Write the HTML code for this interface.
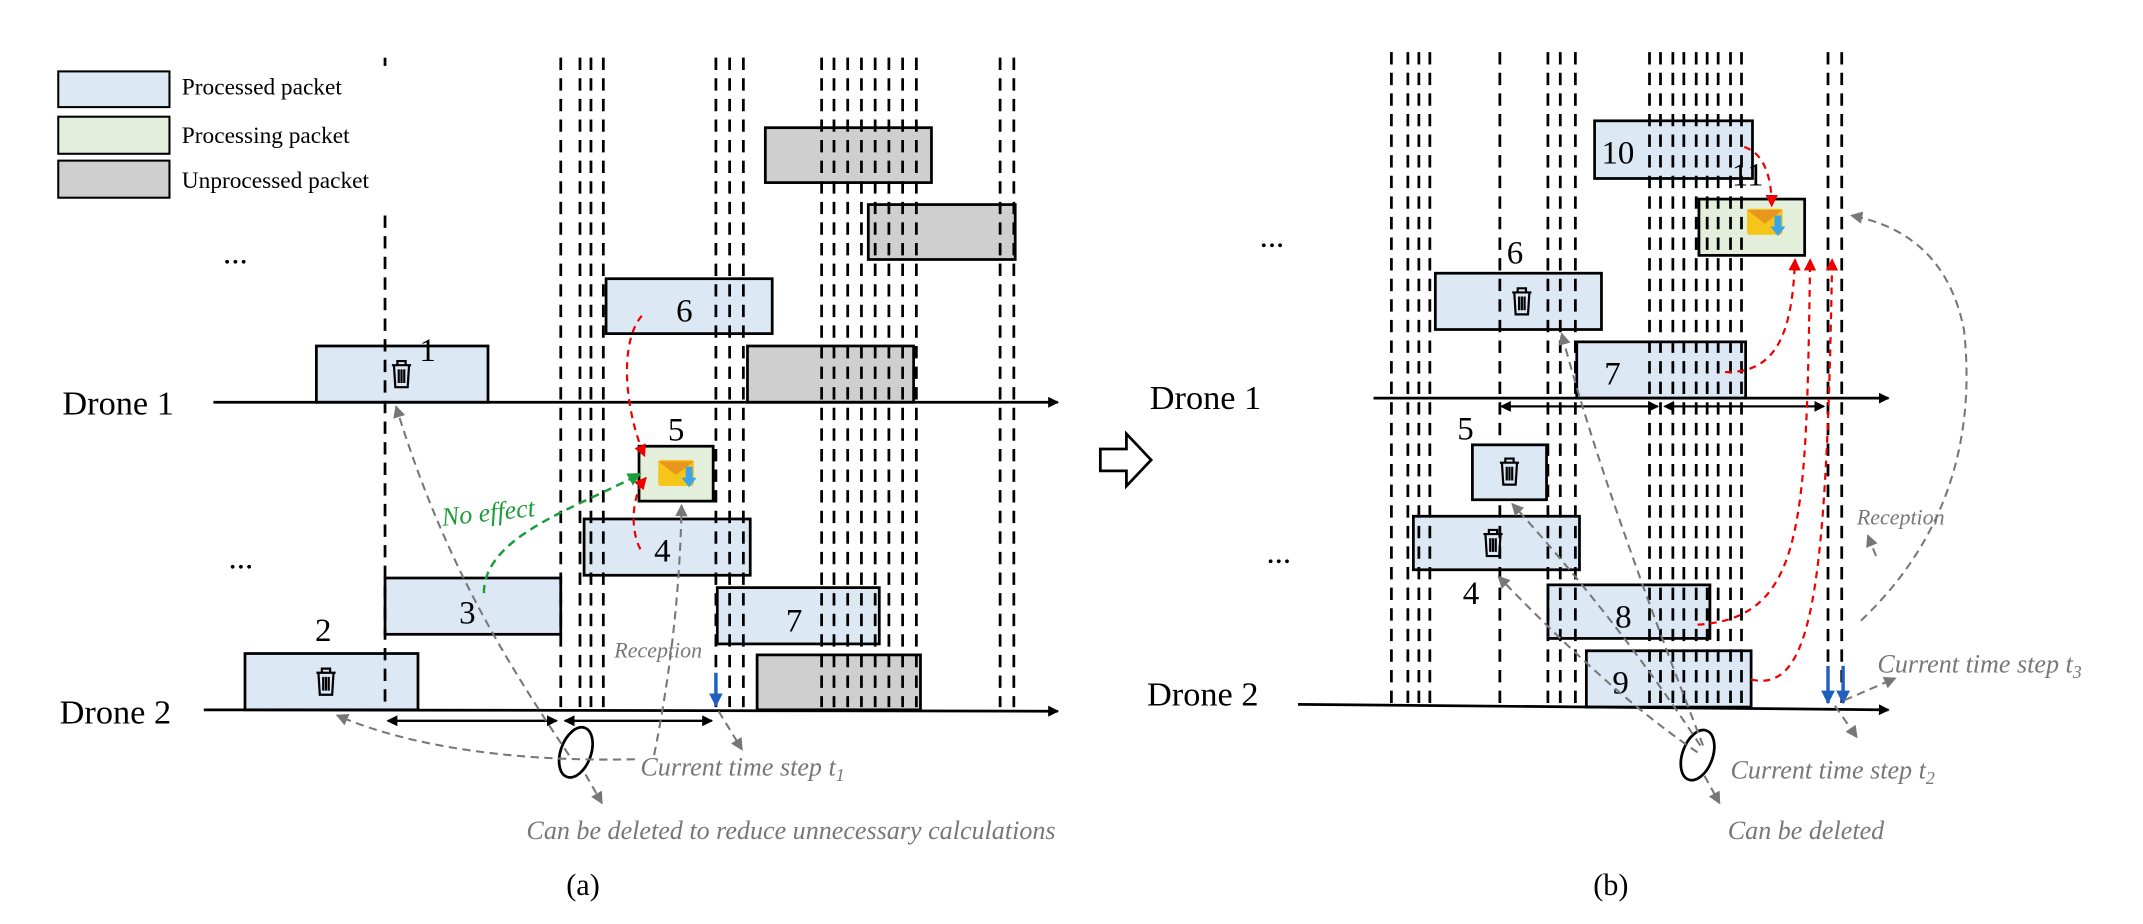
<!DOCTYPE html>
<html><head><meta charset="utf-8"><style>
html,body{margin:0;padding:0;background:#fff;}
svg{display:block;}
text{font-family:"Liberation Serif",serif;}
</style></head><body>
<svg width="2143" height="924" viewBox="0 0 1560 673" xmlns="http://www.w3.org/2000/svg">
<defs>
<marker id="ak" markerWidth="8" markerHeight="8" refX="7" refY="4" orient="auto" markerUnits="userSpaceOnUse"><path d="M0,0 L8,4 L0,8 z" fill="#000"/></marker>
<marker id="ag" markerWidth="9" markerHeight="9" refX="8" refY="4.5" orient="auto" markerUnits="userSpaceOnUse"><path d="M0,0 L9,4.5 L0,9 z" fill="#777"/></marker>
<marker id="ar" markerWidth="9" markerHeight="9" refX="8" refY="4.5" orient="auto" markerUnits="userSpaceOnUse"><path d="M0,0 L9,4.5 L0,9 z" fill="#e00"/></marker>
<marker id="agr" markerWidth="10" markerHeight="10" refX="9" refY="5" orient="auto" markerUnits="userSpaceOnUse"><path d="M0,0 L10,5 L0,10 z" fill="#1a9e3a"/></marker>
<marker id="ab" markerWidth="10" markerHeight="10" refX="9" refY="5" orient="auto" markerUnits="userSpaceOnUse"><path d="M0,0 L10,5 L0,10 z" fill="#1f5fbf"/></marker>
<g id="trash" fill="none" stroke="#000" stroke-width="1.6">
<path d="M-7,-7 L7,-7 M-3,-7 L-3,-10 L3,-10 L3,-7 M-5.5,-7 L-4.5,9 L4.5,9 L5.5,-7 M-2,-4 L-2,6 M0,-4 L0,6 M2,-4 L2,6"/>
</g>
<g id="env">
<rect x="-13" y="-11" width="26" height="19" rx="2" fill="#f5c518"/>
<path d="M-13,-10 L0,0 L13,-10 z" fill="#e8961e"/>
<path d="M7,-6 L12,-6 L12,2 L15,2 L9.5,9 L4,2 L7,2 z" fill="#3aa6e8"/>
</g>
</defs>

<!-- Legend -->
<g stroke="#000" stroke-width="1.5">
<rect x="42" y="52" width="81" height="26" fill="#dde8f5"/>
<rect x="42" y="85" width="81" height="27" fill="#e3efdb"/>
<rect x="42" y="117" width="81" height="27" fill="#d0cfd0"/>
</g>
<g font-size="17">
<text x="132" y="69">Processed packet</text>
<text x="132" y="104">Processing packet</text>
<text x="132" y="137">Unprocessed packet</text>
</g>

<!-- Panel a boxes -->
<g stroke="#000" stroke-width="2">
<rect x="557" y="93" width="121" height="40" fill="#d0cfd0"/>
<rect x="632" y="149" width="107" height="40" fill="#d0cfd0"/>
<rect x="441" y="203" width="121" height="40" fill="#dde8f5"/>
<rect x="230" y="252" width="125" height="41" fill="#dde8f5"/>
<rect x="544" y="252" width="121" height="41" fill="#d0cfd0"/>
<rect x="425" y="378" width="121" height="41" fill="#dde8f5"/>
<rect x="280" y="421" width="128" height="41" fill="#dde8f5"/>
<rect x="522" y="428" width="118" height="41" fill="#dde8f5"/>
<rect x="178" y="476" width="126" height="41" fill="#dde8f5"/>
<rect x="551" y="477" width="119" height="40" fill="#d0cfd0"/>
</g>

<!-- Panel a dashed verticals -->
<g stroke="#000" stroke-width="2" stroke-dasharray="9 6">
<line x1="280" y1="42" x2="280" y2="48"/>
<line x1="280" y1="157" x2="280" y2="517"/>
<line x1="408" y1="42" x2="408" y2="515"/>
<line x1="422" y1="42" x2="422" y2="515"/>
<line x1="430" y1="42" x2="430" y2="515"/>
<line x1="439" y1="42" x2="439" y2="515"/>
<line x1="521" y1="42" x2="521" y2="515"/>
<line x1="531" y1="42" x2="531" y2="515"/>
<line x1="541" y1="42" x2="541" y2="515"/>
<line x1="598" y1="42" x2="598" y2="515"/>
<line x1="607" y1="42" x2="607" y2="515"/>
<line x1="617" y1="42" x2="617" y2="515"/>
<line x1="627" y1="42" x2="627" y2="515"/>
<line x1="637" y1="42" x2="637" y2="515"/>
<line x1="647" y1="42" x2="647" y2="515"/>
<line x1="657" y1="42" x2="657" y2="515"/>
<line x1="667" y1="42" x2="667" y2="515"/>
<line x1="728" y1="42" x2="728" y2="515"/>
<line x1="738" y1="42" x2="738" y2="515"/>
</g>
<rect x="465" y="325" width="54" height="40" fill="#e3efdb" stroke="#000" stroke-width="2"/>
<use href="#trash" x="292" y="273"/>
<use href="#trash" x="237" y="497"/>
<use href="#env" x="492" y="346"/>
<g font-size="24">
<text x="492" y="234">6</text>
<text x="305" y="263">1</text>
<text x="486" y="321">5</text>
<text x="476" y="409">4</text>
<text x="334" y="454">3</text>
<text x="572" y="460">7</text>
<text x="229" y="467">2</text>
<text x="45" y="302" font-size="25">Drone 1</text>
<text x="43" y="527" font-size="25">Drone 2</text>
<text x="162" y="192">...</text>
<text x="166" y="414">...</text>
<text x="412" y="652" font-size="22">(a)</text>
</g>
<!-- axes a -->
<line x1="155" y1="293" x2="770" y2="293" stroke="#000" stroke-width="2" marker-end="url(#ak)"/>
<line x1="148" y1="517" x2="770" y2="518" stroke="#000" stroke-width="2" marker-end="url(#ak)"/>
<g stroke="#000" stroke-width="1.5">
<line x1="283" y1="525" x2="405" y2="525" marker-end="url(#ak)"/>
<line x1="411" y1="525" x2="518" y2="525" marker-end="url(#ak)"/>
<line x1="405" y1="525" x2="282" y2="525" marker-end="url(#ak)"/>
<line x1="518" y1="525" x2="411" y2="525" marker-end="url(#ak)"/>
</g>
<line x1="521" y1="490" x2="521" y2="514" stroke="#1f5fbf" stroke-width="2.5" marker-end="url(#ab)"/>
<ellipse cx="419" cy="548" rx="11" ry="19" transform="rotate(20 419 548)" fill="none" stroke="#000" stroke-width="2"/>
<path d="M467,230 C450,250 455,300 469,332" fill="none" stroke="#e00" stroke-width="1.6" stroke-dasharray="5 4" marker-end="url(#ar)"/>
<path d="M466,400 C458,385 460,360 470,348" fill="none" stroke="#e00" stroke-width="1.6" stroke-dasharray="5 4" marker-end="url(#ar)"/>
<path d="M352,432 C352,390 420,370 466,345" fill="none" stroke="#1a9e3a" stroke-width="1.8" stroke-dasharray="6 4" marker-end="url(#agr)"/>
<text x="322" y="383" font-size="19" font-style="italic" fill="#1a9e3a" transform="rotate(-6 322 383)">No effect</text>
<g fill="none" stroke="#777" stroke-width="1.5" stroke-dasharray="6 4">
<path d="M414,550 C360,470 320,400 288,296" marker-end="url(#ag)"/>
<path d="M462,553 C380,555 300,545 245,521" marker-end="url(#ag)"/>
<path d="M476,550 C490,480 495,420 496,368" marker-end="url(#ag)"/>
<path d="M523,518 L540,546" marker-end="url(#ag)"/>
<path d="M426,564 L438,585" marker-end="url(#ag)"/>
</g>
<g font-style="italic" fill="#777">
<text x="447" y="479" font-size="16">Reception</text>
<text x="466" y="565" font-size="19">Current time step <tspan>t</tspan><tspan font-size="13" dy="4">1</tspan></text>
<text x="383" y="611" font-size="19">Can be deleted to reduce unnecessary calculations</text>
</g>

<path d="M801,327 L820,327 L820,316 L838,335 L820,354 L820,343 L801,343 z" fill="#fff" stroke="#000" stroke-width="2"/>

<!-- Panel b boxes -->
<g stroke="#000" stroke-width="2">
<rect x="1161" y="88" width="115" height="42" fill="#dde8f5"/>
<rect x="1237" y="145" width="77" height="41" fill="#e3efdb"/>
<rect x="1045" y="199" width="121" height="41" fill="#dde8f5"/>
<rect x="1148" y="249" width="123" height="41" fill="#dde8f5"/>
<rect x="1029" y="376" width="121" height="39" fill="#dde8f5"/>
<rect x="1127" y="426" width="118" height="39" fill="#dde8f5"/>
<rect x="1155" y="474" width="120" height="41" fill="#dde8f5"/>
</g>
<g stroke="#000" stroke-width="2" stroke-dasharray="9 6">
<line x1="1013" y1="38" x2="1013" y2="512"/>
<line x1="1025" y1="38" x2="1025" y2="512"/>
<line x1="1033" y1="38" x2="1033" y2="512"/>
<line x1="1041" y1="38" x2="1041" y2="512"/>
<line x1="1092" y1="38" x2="1092" y2="512"/>
<line x1="1127" y1="38" x2="1127" y2="512"/>
<line x1="1136" y1="38" x2="1136" y2="512"/>
<line x1="1147" y1="38" x2="1147" y2="512"/>
<line x1="1201" y1="38" x2="1201" y2="512"/>
<line x1="1209" y1="38" x2="1209" y2="512"/>
<line x1="1218" y1="38" x2="1218" y2="512"/>
<line x1="1226" y1="38" x2="1226" y2="512"/>
<line x1="1235" y1="38" x2="1235" y2="512"/>
<line x1="1243" y1="38" x2="1243" y2="512"/>
<line x1="1251" y1="38" x2="1251" y2="512"/>
<line x1="1260" y1="38" x2="1260" y2="512"/>
<line x1="1268" y1="38" x2="1268" y2="512"/>
<line x1="1331" y1="38" x2="1331" y2="512"/>
<line x1="1341" y1="38" x2="1341" y2="512"/>
</g>
<rect x="1072" y="324" width="54" height="40" fill="#dde8f5" stroke="#000" stroke-width="2"/>
<use href="#trash" x="1108" y="220"/>
<use href="#trash" x="1099" y="344"/>
<use href="#trash" x="1087" y="396"/>
<use href="#env" x="1285" y="163"/>
<g font-size="24">
<text x="1166" y="119">10</text>
<text x="1261" y="135">11</text>
<text x="1097" y="192">6</text>
<text x="1168" y="280">7</text>
<text x="1061" y="320">5</text>
<text x="1065" y="440">4</text>
<text x="1176" y="457">8</text>
<text x="1174" y="505">9</text>
<text x="837" y="298" font-size="25">Drone 1</text>
<text x="835" y="514" font-size="25">Drone 2</text>
<text x="917" y="180">...</text>
<text x="922" y="410">...</text>
<text x="1160" y="652" font-size="22">(b)</text>
</g>
<line x1="1000" y1="290" x2="1375" y2="290" stroke="#000" stroke-width="2" marker-end="url(#ak)"/>
<line x1="945" y1="513" x2="1375" y2="517" stroke="#000" stroke-width="2" marker-end="url(#ak)"/>
<g stroke="#000" stroke-width="1.5">
<line x1="1207" y1="296" x2="1093" y2="296" marker-end="url(#ak)"/>
<line x1="1095" y1="296" x2="1207" y2="296" marker-end="url(#ak)"/>
<line x1="1213" y1="296" x2="1328" y2="296" marker-end="url(#ak)"/>
<line x1="1326" y1="296" x2="1212" y2="296" marker-end="url(#ak)"/>
</g>
<line x1="1331" y1="485" x2="1331" y2="512" stroke="#1f5fbf" stroke-width="2.5" marker-end="url(#ab)"/>
<line x1="1342" y1="485" x2="1342" y2="512" stroke="#1f5fbf" stroke-width="2.5" marker-end="url(#ab)"/>
<ellipse cx="1236" cy="550" rx="11" ry="19" transform="rotate(20 1236 550)" fill="none" stroke="#000" stroke-width="2"/>
<g fill="none" stroke="#e00" stroke-width="1.6" stroke-dasharray="5 4">
<path d="M1270,107 C1285,112 1290,130 1290,150" marker-end="url(#ar)"/>
<path d="M1256,271 C1295,272 1305,240 1307,189" marker-end="url(#ar)"/>
<path d="M1236,455 C1315,450 1315,380 1318,189" marker-end="url(#ar)"/>
<path d="M1275,495 C1320,505 1330,430 1334,189" marker-end="url(#ar)"/>
</g>
<g fill="none" stroke="#777" stroke-width="1.5" stroke-dasharray="6 4">
<path d="M1240,543 C1200,440 1160,330 1137,243" marker-end="url(#ag)"/>
<path d="M1238,543 C1190,470 1140,410 1101,367" marker-end="url(#ag)"/>
<path d="M1236,548 C1180,510 1130,460 1091,420" marker-end="url(#ag)"/>
<path d="M1241,565 L1252,585" marker-end="url(#ag)"/>
<path d="M1336,514 L1352,537" marker-end="url(#ag)"/>
<path d="M1343,510 L1380,494" marker-end="url(#ag)"/>
<path d="M1355,452 C1410,400 1440,330 1430,240 C1420,190 1390,165 1348,157" marker-end="url(#ag)"/>
<path d="M1366,405 L1360,390" marker-end="url(#ag)"/>
</g>
<g font-style="italic" fill="#777">
<text x="1352" y="382" font-size="16">Reception</text>
<text x="1367" y="490" font-size="19">Current time step <tspan>t</tspan><tspan font-size="13" dy="4">3</tspan></text>
<text x="1260" y="567" font-size="19">Current time step <tspan>t</tspan><tspan font-size="13" dy="4">2</tspan></text>
<text x="1258" y="611" font-size="19">Can be deleted</text>
</g>
</svg>
</body></html>
